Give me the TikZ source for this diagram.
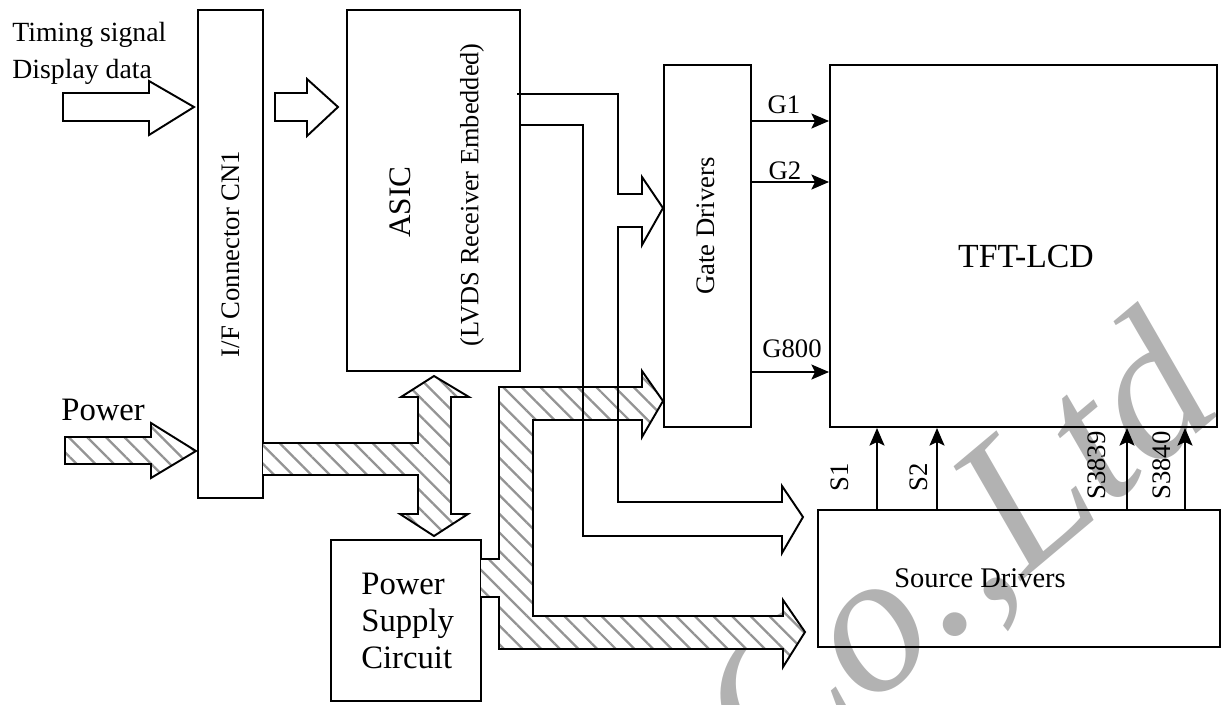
\documentclass[tikz,border=0pt]{standalone}
\usepackage{fontspec}
\setmainfont{Liberation Serif}
\usetikzlibrary{arrows.meta, positioning, fit, calc, patterns.meta}

\begin{document}
\begin{tikzpicture}[
  x=0.02cm, y=-0.02cm,
  box/.style={
    draw,
    inner sep=0pt,
    line width=1.1pt
  },
  txt/.style={
    font=\fontsize{15.2}{21}\selectfont,
    inner sep=0pt
  },
  bigtxt/.style={
    font=\fontsize{18.6}{21}\selectfont,
    inner sep=0pt
  },
  sig/.style={
    -{Stealth[length=10pt, width=8.5pt, inset=2pt]},
    line width=1.1pt
  },
  hollow/.style={
    draw,
    fill=white,
    line width=1.1pt,
    line join=miter
  },
  hatched/.style={
    draw,
    line width=1.1pt,
    line join=miter,
    preaction={fill=white},
    pattern={Lines[angle=-45, distance=7.5pt, line width=1.3pt]},
    pattern color=black!42
  },
  bus/.style={
    draw,
    line width=1.1pt,
    line join=miter
  }
]
\useasboundingbox (0,0) rectangle (1226,704);

% Watermark
\begin{scope}
  \clip (0,0) rectangle (1226,704);
  \node[font=\itshape\fontsize{114}{114}\selectfont, text=black!30,
        rotate=40, inner sep=0pt] (mark) at (962,560) {Co.,Ltd};
\end{scope}

% Blocks
\node[box, fit={(198,10) (263,498)},
      label={[txt, rotate=90]center:I/F Connector CN1}] (cn1) {};
\node[box, fit={(347,10) (520,371)}] (asic) {};
\node[box, fit={(664,65) (751,427)}] (gate) {};
\node[box, fit={(830,65) (1217,427)}] (tft) {};
\node[box, fit={(818,510) (1220,647)}] (src) {};
\node[box, fit={(331,540) (481,701)}] (psc) {};

\node[font=\fontsize{17.8}{21}\selectfont, inner sep=0pt, rotate=90]
  (asictitle) at (400,202) {ASIC};
\node[font=\fontsize{15}{17}\selectfont, inner sep=0pt, rotate=90]
  (asicnote) at (472,195) {(LVDS Receiver Embedded)};
\node[txt, rotate=90] (gatelabel) at (706,226) {Gate Drivers};
\node[font=\fontsize{19.2}{21}\selectfont, inner sep=0pt]
  (tftlabel) at (1026,256) {TFT-LCD};
\node[font=\fontsize{16.2}{19}\selectfont, inner sep=0pt]
  (srclabel) at (980,578) {Source Drivers};
\node[bigtxt, align=left, anchor=north west]
  (psclabel) at (361,573) {Power\\Supply\\Circuit};

% Inputs
\node[font=\fontsize{15.8}{21}\selectfont, inner sep=0pt, align=left,
      anchor=north west] (inlabel) at (12,22) {Timing signal\\Display data};
\node[bigtxt, anchor=base west] (pwrlabel) at (61,420) {Power};

\draw[hollow] (63,93) -- (149,93) -- (149,81) -- (194,107)
  -- (149,135) -- (149,121) -- (63,121) -- cycle;
\draw[hollow] (275,93) -- (307,93) -- (307,79) -- (338,107)
  -- (307,136) -- (307,121) -- (275,121) -- cycle;
\draw[hatched] (65,437) -- (151,437) -- (151,423) -- (196,451)
  -- (151,478) -- (151,464) -- (65,464) -- cycle;

% Power lines
\draw[hatched] (263,443) -- (418,443) -- (418,397) -- (401,397)
  -- (434,376) -- (469,397) -- (451,397) -- (451,514) -- (468,514)
  -- (434,536) -- (400,514) -- (418,514) -- (418,475) -- (263,475);
\draw[hatched] (481,559) -- (499,559) -- (499,387) -- (642,387)
  -- (642,371) -- (663,401) -- (642,437) -- (642,420) -- (533,420)
  -- (533,616) -- (783,616) -- (783,600) -- (805,632) -- (783,667)
  -- (783,649) -- (499,649) -- (499,597) -- (481,597);

% Data bus
\draw[bus] (517,94) -- (618,94) -- (618,194) -- (642,194) -- (642,177)
  -- (663,208) -- (642,245) -- (642,227) -- (618,227) -- (618,502)
  -- (782,502) -- (782,486) -- (803,517) -- (782,553) -- (782,536)
  -- (583,536) -- (583,125) -- (asic.east |- 0,125);

% Gate lines
\draw[sig] (gate.east |- 0,121) -- (tft.west |- 0,121);
\draw[sig] (gate.east |- 0,182) -- (tft.west |- 0,182);
\draw[sig] (gate.east |- 0,372) -- (tft.west |- 0,372);
\node[txt, anchor=base] (g1) at (784,113) {G1};
\node[txt, anchor=base] (g2) at (785,179) {G2};
\node[txt, anchor=base] (g800) at (792,357) {G800};

% Source lines
\draw[sig] (src.north -| 877,0) -- (tft.south -| 877,0);
\draw[sig] (src.north -| 937,0) -- (tft.south -| 937,0);
\draw[sig] (src.north -| 1127,0) -- (tft.south -| 1127,0);
\draw[sig] (src.north -| 1185,0) -- (tft.south -| 1185,0);
\node[txt, rotate=90, anchor=base west] (s1) at (848,492) {S1};
\node[txt, rotate=90, anchor=base west] (s2) at (927,492) {S2};
\node[txt, rotate=90, anchor=base west] (s3839) at (1105,500) {S3839};
\node[txt, rotate=90, anchor=base west] (s3840) at (1170,500) {S3840};

\end{tikzpicture}
\end{document}
